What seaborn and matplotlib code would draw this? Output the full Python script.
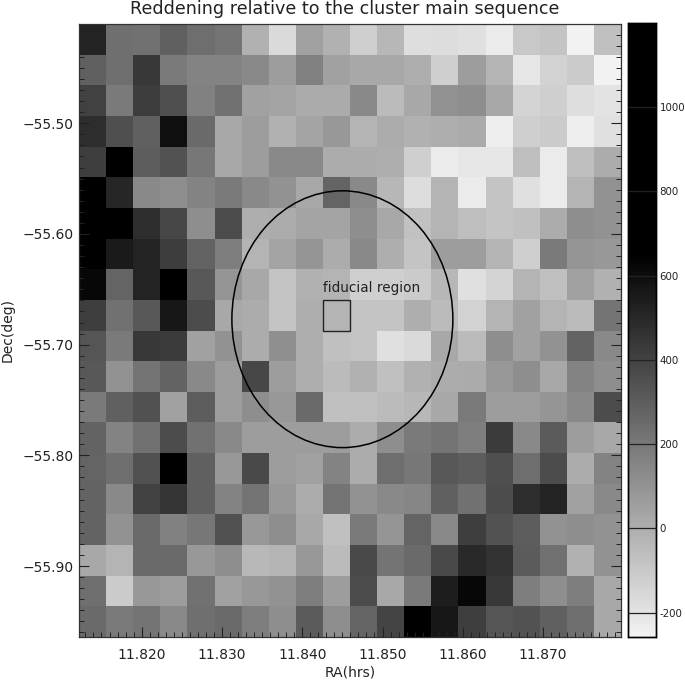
import numpy as np
import matplotlib
matplotlib.use("Agg")
import matplotlib.pyplot as plt
from matplotlib.colors import LinearSegmentedColormap
from matplotlib.patches import Ellipse, Rectangle
from matplotlib.ticker import FixedLocator
import seaborn as sns

# Grey level of each cell (0 black .. 255 white), top row first
cell_shades = [
 [35,110,112,95,108,115,175,215,160,175,205,180,220,218,222,232,198,195,240,190],
 [95,110,55,120,130,130,135,155,128,160,165,165,172,205,155,178,228,208,200,245],
 [65,120,60,78,128,112,160,162,168,168,135,185,165,143,140,165,210,205,220,225],
 [45,78,95,15,105,165,155,175,162,150,178,170,175,172,168,235,205,200,235,222],
 [62,0,92,82,118,165,155,135,135,170,170,172,205,232,228,228,188,232,188,170],
 [0,38,135,140,130,120,135,145,165,100,135,180,218,178,232,195,222,232,178,145],
 [0,0,45,70,140,75,172,170,162,162,140,165,192,178,188,195,190,170,140,145],
 [0,25,35,60,98,125,178,162,148,170,135,172,195,155,155,178,205,120,148,150],
 [8,100,35,0,88,148,165,195,175,178,205,205,200,180,222,210,178,190,160,175],
 [62,112,88,22,75,165,170,195,172,178,195,195,172,185,208,178,160,178,185,115],
 [85,120,55,58,160,145,170,142,172,190,195,222,215,165,185,140,160,145,98,135],
 [88,145,115,98,135,155,70,155,172,185,175,190,175,170,168,150,140,165,130,140],
 [120,95,80,160,92,155,140,150,105,190,190,185,180,165,120,155,155,148,135,75],
 [98,130,112,75,112,135,155,155,155,155,170,140,120,115,125,58,135,90,155,165],
 [100,110,80,0,95,150,72,155,160,130,170,108,118,88,92,78,108,75,170,130],
 [98,135,65,52,95,130,115,150,170,115,145,135,132,95,112,75,45,35,160,135],
 [98,145,105,128,118,80,150,140,165,190,120,148,100,135,62,82,92,145,140,145],
 [165,178,105,105,150,140,182,178,150,185,72,115,105,72,40,50,90,112,175,145],
 [110,200,150,155,112,160,150,145,125,155,75,165,120,28,8,55,125,140,125,165],
 [105,120,115,135,110,105,125,140,90,140,100,68,0,22,62,85,82,95,110,165],
]
# Colorbar calibration
shade_at_zero = 172
units_per_shade = 3.78
reddening = (shade_at_zero - np.array(cell_shades, dtype=float)) * units_per_shade

ra_range = (11.8122, 11.8797)
dec_range = (-55.4103, -55.9641)
ra_ticks = [11.82, 11.83, 11.84, 11.85, 11.86, 11.87]
dec_ticks = [-55.5, -55.6, -55.7, -55.8, -55.9]
cbar_ticks = [-200, 0, 200, 400, 600, 800, 1000]
ellipse_center = (11.845, -55.677)
ellipse_radii = (0.01376, 0.116)
fiducial_cell = (9, 9)

W, H = 685, 684
sns.set_style("white")
plt.rcParams['font.family'] = ['DejaVu Sans']
plt.rcParams['text.color'] = '#222222'
fig = plt.figure(figsize=(W / 100, H / 100), dpi=100)
ax = fig.add_axes([79 / W, 1 - 637 / H, 542 / W, 613 / H])
cax = fig.add_axes([628 / W, 1 - 637 / H, 27.5 / W, 614 / H])

cmap = LinearSegmentedColormap.from_list(
    "grey_black",
    [(0, (0.95, 0.95, 0.95)), (908 / 1458, (0, 0, 0)), (1, (0, 0, 0))])
sns.heatmap(reddening, ax=ax, cbar_ax=cax, cmap=cmap, vmin=-258, vmax=1200,
            xticklabels=False, yticklabels=False,
            cbar_kws={"ticks": cbar_ticks})

nx, ny = reddening.shape[1], reddening.shape[0]
def ra_idx(v):
    return (np.asarray(v) - ra_range[0]) / (ra_range[1] - ra_range[0]) * nx
def dec_idx(v):
    return (np.asarray(v) - dec_range[0]) / (dec_range[1] - dec_range[0]) * ny

ax.set_axisbelow(False)
ax.set_xticks(ra_idx(ra_ticks))
ax.set_xticklabels([f"{t:.3f}" for t in ra_ticks])
ax.set_yticks(dec_idx(dec_ticks))
ax.set_yticklabels([f"\u2212{abs(t):.2f}" for t in dec_ticks], rotation=0)
minor_x = np.arange(11.813, 11.8797, 0.001)
minor_y = -np.arange(55.42, 55.9641, 0.01)
ax.xaxis.set_minor_locator(FixedLocator(ra_idx(minor_x)))
ax.yaxis.set_minor_locator(FixedLocator(dec_idx(minor_y)))
ax.tick_params(which='major', direction='in', top=False, right=True, bottom=True, left=True,
               length=7.5, width=0.8, color='#222222', labelsize=10, labelcolor='#222222')
ax.tick_params(which='minor', direction='in', top=False, right=True, bottom=True, left=True,
               length=3.6, width=0.7, color='#222222')
ax.tick_params(axis='x', which='major', pad=8)
ax.tick_params(axis='y', which='major', pad=4)
for s in ax.spines.values():
    s.set_visible(True)
    s.set_linewidth(0.9)
    s.set_color('#333333')

ax.add_patch(Ellipse((ra_idx(ellipse_center[0]), dec_idx(ellipse_center[1])),
                     2 * ellipse_radii[0] / (ra_range[1] - ra_range[0]) * nx,
                     2 * ellipse_radii[1] / (dec_range[0] - dec_range[1]) * ny,
                     fill=False, ec='black', lw=1.1))
ax.add_patch(Rectangle(fiducial_cell, 1, 1, fill=False, ec='#222222', lw=1.0))
ax.text(9, 8.85, "fiducial region", fontsize=9.8, va='bottom', ha='left')

fig.text(345 / W, 1 - 9 / H, "Reddening relative to the cluster main sequence",
         fontsize=12.6, ha='center', va='center')
fig.text(350 / W, 1 - 672 / H, "RA(hrs)", fontsize=10, ha='center', va='center')
fig.text(8 / W, 1 - 330 / H, "Dec(deg)", fontsize=10, ha='center', va='center', rotation=90)

cax.set_axisbelow(False)
cax.yaxis.set_ticks_position('right')
cax.set_yticks(cbar_ticks)
cax.set_yticklabels([str(t) for t in cbar_ticks])
cax.tick_params(axis='y', which='major', direction='in', length=20, width=0.9,
                color='#222222', labelsize=7.4, labelcolor='#222222', pad=3)
for s in cax.spines.values():
    s.set_visible(True)
    s.set_linewidth(1.0)
    s.set_color('black')
fig.savefig("out.png", dpi=100)
